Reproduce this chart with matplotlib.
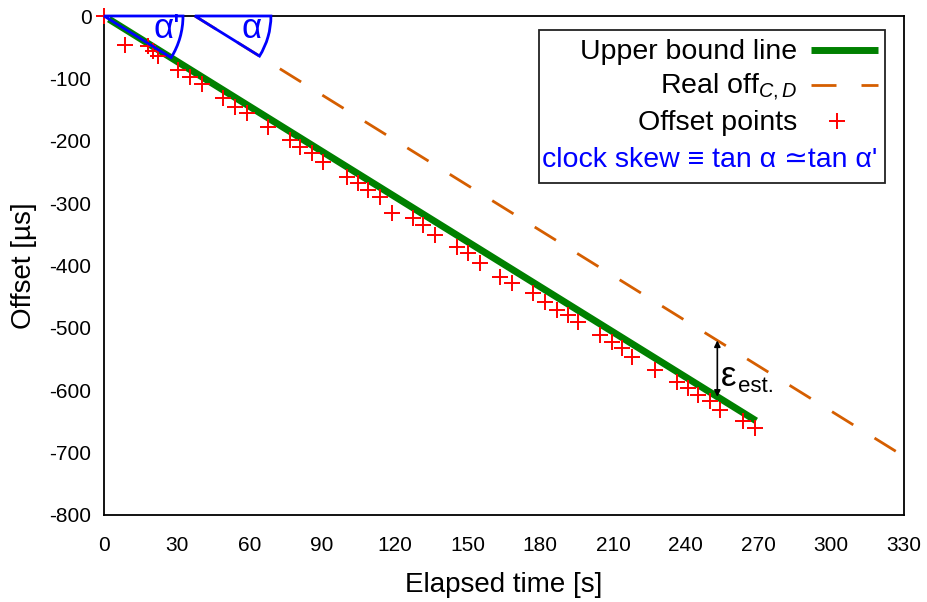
import numpy as np
import matplotlib.pyplot as plt
import matplotlib.transforms as mtransforms
from matplotlib.patches import Wedge, Rectangle
from matplotlib.lines import Line2D

plt.rcParams['font.family'] = ['Liberation Sans', 'DejaVu Sans']
plt.rcParams['axes.unicode_minus'] = False
plt.rcParams['mathtext.fontset'] = 'custom'
plt.rcParams['mathtext.rm'] = 'Liberation Sans'
plt.rcParams['mathtext.it'] = 'Liberation Sans:italic'

# measured offset points
elapsed = [0, 8.7, 18.2, 20.2, 22.3, 30.5, 35.5, 40.4, 49.1, 54.0, 59.0, 67.7,
           76.7, 80.8, 85.8, 90.3, 100.2, 104.8, 108.9, 113.9, 118.8, 127.5,
           131.6, 136.6, 145.6, 150.2, 155.1, 163.4, 168.3, 177.0, 181.9, 186.9,
           191.4, 195.5, 204.6, 209.5, 213.7, 217.8, 227.3, 236.4, 240.9, 245.0,
           250.0, 254.1, 263.6, 268.5]
offset = [0, -46, -48, -56, -64, -87, -98, -109, -131, -146, -155, -178,
          -199, -210, -220, -234, -258, -268, -279, -290, -316, -324,
          -335, -351, -370, -380, -396, -418, -428, -444, -458, -471,
          -479, -490, -511, -522, -532, -546, -567, -586, -596, -607,
          -618, -631, -650, -660]

# upper bound line and real offset
bound_t = [2, 269]
bound_off = [-5, -649]
real_t = [37.5, 330]
real_off = [0, -706]

xticks = list(range(0, 331, 30))
yticks = list(range(-800, 1, 100))

W, H = 928, 602
fig = plt.figure(figsize=(W / 100, H / 100), dpi=100)
ax = fig.add_axes([104 / W, 1 - 515 / H, 800 / W, 499 / H])


def fpx(x, y):
    # pixel position (from top-left) -> figure fraction
    return x / W, 1 - y / H


ax.plot(real_t, real_off, color='#d55e00', lw=2, dashes=(9, 9), zorder=2)
ax.plot(bound_t, bound_off, color='#008000', lw=5, solid_capstyle='butt', zorder=3)
ax.plot(elapsed, offset, ls='none', marker='+', color='red', ms=11, mew=1.4,
        clip_on=False, zorder=4)

ax.set_xlim(0, 330)
ax.set_ylim(-800, 0)
ax.set_xticks(xticks)
ax.set_yticks(yticks)
ax.tick_params(length=0, labelsize=15)
ax.tick_params(axis='x', pad=15)
ax.tick_params(axis='y', pad=9)
for s in ax.spines.values():
    s.set_linewidth(1.3)

ax.set_xlabel('Elapsed time [s]', fontsize=20)
ax.set_ylabel('Offset [µs]', fontsize=20)
ax.xaxis.set_label_coords(0.5, -0.14)
ax.xaxis.label.set_va('center')
ax.yaxis.set_label_coords(-0.1, 0.5)
ax.yaxis.label.set_va('center')

# angle wedges (drawn in pixels so they stay circular)
slope_px = (bound_off[0] - bound_off[1]) / (bound_t[1] - bound_t[0]) * (499 / 800) / (800 / 330)
ang = np.degrees(np.arctan(slope_px))
for t0, r in [(0, 79), (real_t[0], 76)]:
    cx, cy = ax.transData.transform((t0, 0))
    ax.add_artist(Wedge((cx, cy), r, -ang, 0, fill=False, edgecolor='blue', lw=2,
                        transform=mtransforms.IdentityTransform(), clip_on=False,
                        zorder=6))
fig.text(*fpx(167, 38), "α'", color='blue', fontsize=25, ha='center', va='baseline')
fig.text(*fpx(252, 38), "α", color='blue', fontsize=25, ha='center', va='baseline')

# epsilon arrow
eps_t = 253
lo = np.interp(eps_t, bound_t, bound_off)
hi = np.interp(eps_t, real_t, real_off)
ax.annotate('', xy=(eps_t, hi), xytext=(eps_t, lo),
            arrowprops=dict(arrowstyle='<|-|>', color='black', lw=1.2,
                            mutation_scale=9, shrinkA=0, shrinkB=0), zorder=5)
fig.text(*fpx(721, 386), 'ε', fontsize=25, va='baseline')
fig.text(*fpx(738, 392), 'est.', fontsize=16, va='baseline')

# legend box, gnuplot style
x0, y0 = fpx(539, 183)
x1, y1 = fpx(885, 30)
fig.patches.append(Rectangle((x0, y0), x1 - x0, y1 - y0, transform=fig.transFigure,
                             fill=True, facecolor='white', edgecolor='#222222',
                             lw=1.3, zorder=7))
tx = 797 / W
fig.text(tx, fpx(0, 59)[1], 'Upper bound line', fontsize=20.5, ha='right',
         va='baseline', zorder=8)
fig.text(tx, fpx(0, 93)[1], 'Real off$_{C,D}$', fontsize=20.5, ha='right',
         va='baseline', zorder=8)
fig.text(tx, fpx(0, 130)[1], 'Offset points', fontsize=20.5, ha='right',
         va='baseline', zorder=8)
fig.text(877 / W, fpx(0, 167)[1], "clock skew ≡ tan α ≃tan α'", fontsize=20.5,
         color='blue', ha='right', va='baseline', zorder=8)
sx = [811 / W, 878 / W]
fig.lines.append(Line2D(sx, [fpx(0, 50)[1]] * 2, color='#008000', lw=5,
                        solid_capstyle='butt', transform=fig.transFigure, zorder=8))
fig.lines.append(Line2D(sx, [fpx(0, 85)[1]] * 2, color='#d55e00', lw=2,
                        dashes=(9, 9), transform=fig.transFigure, zorder=8))
fig.lines.append(Line2D([837 / W], [fpx(0, 121)[1]], ls='none', marker='+',
                        color='red', ms=11, mew=1.4, transform=fig.transFigure,
                        zorder=8))

fig.savefig('out.png', dpi=100)
